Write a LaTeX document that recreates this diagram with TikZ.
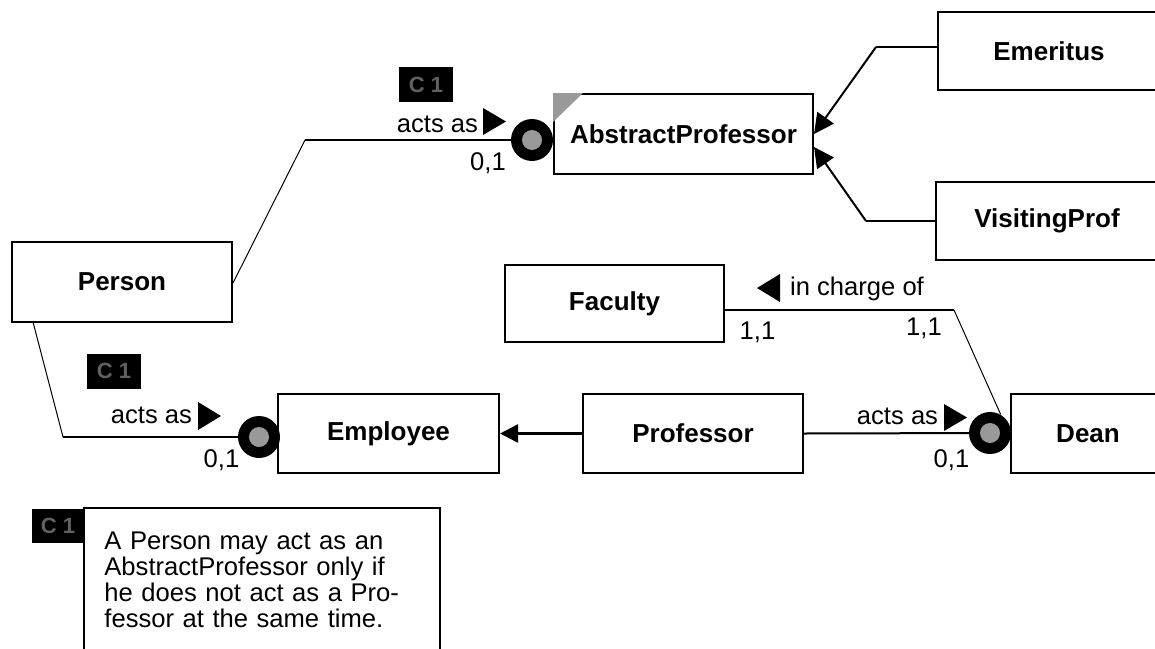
\documentclass[tikz,border=0pt]{standalone}
\usepackage{fontspec}
\setmainfont{Liberation Sans}
\usetikzlibrary{arrows.meta}
\begin{document}
\begin{tikzpicture}[x=0.5pt,y=-0.5pt,
  cls/.style={draw, line width=1pt, fill=white, inner sep=0pt,
    font=\fontsize{13}{15}\selectfont\bfseries},
  lbl/.style={inner sep=0pt, anchor=base, font=\fontsize{12.8}{15}\selectfont},
  ctag/.style={fill=black, text=black!62, inner sep=0pt, minimum width=27pt,
    minimum height=17.5pt, font=\fontsize{11}{12}\selectfont\bfseries},
  rolecirc/.style={circle, fill=black, minimum size=21pt, inner sep=0pt,
    path picture={\fill[black!40] (path picture bounding box.center) circle (5pt);}},
  thinline/.style={line width=0.5pt},
  thickline/.style={line width=1pt},
  subarrow/.style={line width=1pt, -{Triangle[length=10pt,width=10pt]}},
  genarrow/.style={line width=1.3pt, -{Triangle[length=9pt,width=9pt]}},
]
\useasboundingbox (0,0) rectangle (1155,648);

% object types
\node[cls, minimum width=110pt, minimum height=40pt] (person) at (122,282) {Person};
\node[cls, minimum width=129.5pt, minimum height=40pt] (abstr) at (683.5,134) {AbstractProfessor};
\node[cls, minimum width=111pt, minimum height=39pt] (emer) at (1049,51) {Emeritus};
\node[cls, minimum width=111pt, minimum height=39pt] (visit) at (1047,221) {VisitingProf};
\node[cls, minimum width=109.5pt, minimum height=38.5pt] (faculty) at (614.5,303.5) {Faculty};
\node[cls, minimum width=110.5pt, minimum height=39.5pt] (employee) at (388.5,433.5) {Employee};
\node[cls, minimum width=110pt, minimum height=39.5pt] (professor) at (693,433.5) {Professor};
\node[cls, minimum width=77pt, minimum height=39.5pt] (dean) at (1088,433.5) {Dean};

% grey corner mark of AbstractProfessor
\fill[black!40] (abstr.north west) -- ++(30,0) -- ++(-30,29) -- cycle;

% role positions and bends
\coordinate (r1) at (532,140);
\coordinate (r2) at (259,437);
\coordinate (r3) at (990,433);
\coordinate (b1) at (305,140);
\coordinate (b2) at (63,437);
\coordinate (p1) at (233,283);
\coordinate (p2) at (33,322);
\coordinate (b3) at (954,310);
\coordinate (fe) at (faculty.east |- b3);
\coordinate (be) at (876,47);
\coordinate (bv) at (866,221);

% Person acts as AbstractProfessor
\draw[thinline] (p1) -- (b1);
\draw[thickline] (b1) -- (r1);
% Person acts as Employee
\draw[thinline] (p2) -- (b2);
\draw[thickline] (b2) -- (r2);
% Professor acts as Dean
\draw[thickline] (professor.east) -- (r3);
% Dean in charge of Faculty
\draw[thickline] (fe) -- (b3);

\node[rolecirc] (c1) at (r1) {};
\node[rolecirc] (c2) at (r2) {};
\node[rolecirc] (c3) at (r3) {};
\draw[thinline] (b3) -- (c3.60);

% subtype links
\draw[thickline] ([yshift=2pt]emer.west) -- (be);
\draw[subarrow] (be) -- (abstr.east);
\draw[thickline] (visit.west) -- (bv);
\draw[subarrow] (bv) -- ([yshift=-6.5pt]abstr.east);
\draw[genarrow] (professor.west) -- (employee.east);

% reading direction marks
\fill (483,108) -- (506,121.5) -- (483,135) -- cycle;
\fill (198,402) -- (221,416) -- (198,430) -- cycle;
\fill (944,404) -- (967,417.5) -- (944,431) -- cycle;
\fill (780,274) -- (757,288) -- (780,302) -- cycle;

% role labels
\node[lbl] (l1) at (437.5,132) {acts as};
\node[lbl] (l2) at (151.5,423) {acts as};
\node[lbl] (l3) at (897.5,424) {acts as};
\node[lbl] (l4) at (857,295) {in charge of};
\node[lbl] (m1) at (488,170) {0,1};
\node[lbl] (m2) at (221.5,467) {0,1};
\node[lbl] (m3) at (951.5,467) {0,1};
\node[lbl] (m4) at (757.5,339) {1,1};
\node[lbl] (m5) at (924,335) {1,1};

% constraint tags
\node[ctag] (t1) at (426,84.5) {C 1};
\node[ctag] (t2) at (114,371) {C 1};
\node[ctag, minimum width=26pt, minimum height=17pt] (t3) at (58,526) {C 1};

% constraint note
\draw[line width=1pt] (84,670) -- (84,508) -- (440,508) -- (440,670);
\node[inner sep=0pt, anchor=base west, align=left, text width=170pt,
  font=\fontsize{12.8}{13}\selectfont] (note) at (104,549)
  {A Person may act as an\\AbstractProfessor only if\\he does not act as a Pro-\\fessor at the same time.};
\end{tikzpicture}
\end{document}
